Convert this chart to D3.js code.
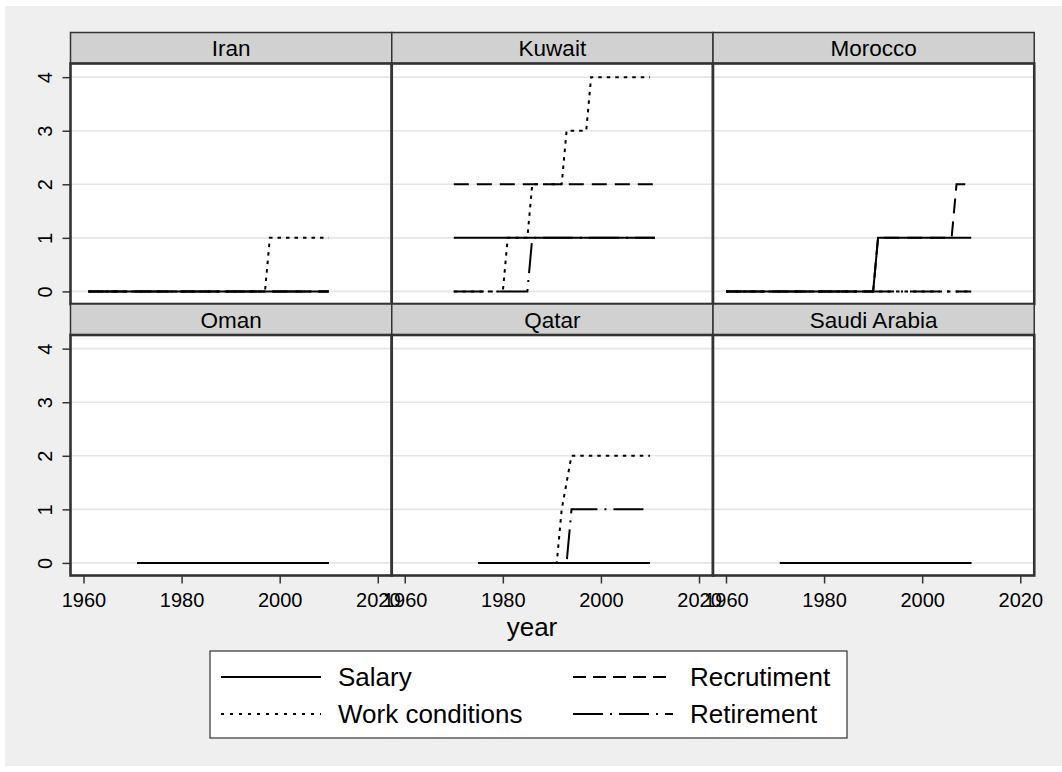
<!DOCTYPE html>
<html><head><meta charset="utf-8">
<script src="https://cdn.jsdelivr.net/npm/d3@7"></script>
<style>body{margin:0;background:#fff}svg{display:block}text{font-family:"Liberation Sans",Arial,Helvetica,sans-serif;fill:#000}</style>
</head><body><svg id="c" width="1062" height="772"></svg>
<script>
// ---- data (breakpoints of each step series, [year, value]) ----
const countries = ["Iran","Kuwait","Morocco","Oman","Qatar","Saudi Arabia"];
const seriesNames = ["Salary","Work conditions","Recrutiment","Retirement"];
const salary = [
  [[1961,0],[2010,0]],
  [[1970,1],[2011,1]],
  [[1960,0],[1990,0],[1991,1],[2010,1]],
  [[1971,0],[2010,0]],
  [[1975,0],[2010,0]],
  [[1971,0],[2010,0]]
];
const workConditions = [
  [[1961,0],[1997,0],[1998,1],[2010,1]],
  [[1970,0],[1980,0],[1981,1],[1985,1],[1986,2],[1992,2],[1993,3],[1997,3],[1998,4],[2010,4]],
  [[1960,0],[2010,0]],
  [[1971,0],[2010,0]],
  [[1975,0],[1991,0],[1992,1],[1994,2],[2010,2]],
  [[1971,0],[2010,0]]
];
const recruitment = [
  [[1961,0],[2010,0]],
  [[1970,2],[2011,2]],
  [[1960,0],[1990,0],[1991,1],[2006,1],[2007,2],[2010,2]],
  [[1971,0],[2010,0]],
  [[1975,0],[2010,0]],
  [[1971,0],[2010,0]]
];
const retirement = [
  [[1961,0],[2010,0]],
  [[1970,0],[1985,0],[1986,1],[2011,1]],
  [[1960,0],[2010,0]],
  [[1971,0],[2010,0]],
  [[1975,0],[1993,0],[1994,1],[2010,1]],
  [[1971,0],[2010,0]]
];
const xTicks = [1960,1980,2000,2020];
const yTicks = [0,1,2,3,4];

// ---- styles / layout ----
const dashes = ["none","3.5,5","15,8","30,7,2,7"];
const legendDashes = ["none","3,6","13,7","30,7,2,7"];
const allSeries = [salary, workConditions, recruitment, retirement];
const svg = d3.select("#c");
const FONT = '"Liberation Sans",Arial,Helvetica,sans-serif';

svg.append("rect").attr("x",5).attr("y",6).attr("width",1057).attr("height",760).attr("fill","#efefef");

const panelW = 321.25, stripH = 31, plotH = 240.5;
const lefts = [70.5, 70.5+panelW, 70.5+2*panelW];
const rowTops = [32.5, 304];
const x = d3.scaleLinear().domain([1957.35, 2022.85]).range([0, panelW]);
const y = d3.scaleLinear().domain([-0.235, 4.255]).range([plotH, 0]);

countries.forEach((name, i) => {
  const col = i % 3, row = Math.floor(i / 3);
  const g = svg.append("g").attr("transform", `translate(${lefts[col]},${rowTops[row]})`);
  g.append("rect").attr("width", panelW).attr("height", stripH).attr("fill", "#d1d1d1").attr("stroke", "#333").attr("stroke-width", 1.5);
  g.append("text").attr("x", panelW/2).attr("y", 23.5).attr("text-anchor","middle").attr("font-size",22.5).text(name);
  const p = g.append("g").attr("transform", `translate(0,${stripH})`);
  p.append("rect").attr("width", panelW).attr("height", plotH).attr("fill", "#fff");
  p.selectAll("line.grid").data(yTicks).join("line").attr("class","grid")
    .attr("x1",0).attr("x2",panelW).attr("y1",d=>y(d)).attr("y2",d=>y(d))
    .attr("stroke","#e6e6e6").attr("stroke-width",1.6);
  const line = d3.line().x(d=>x(d[0])).y(d=>y(d[1]));
  allSeries.forEach((s, k) => {
    p.append("path").attr("d", line(s[i])).attr("fill","none").attr("stroke","#000")
      .attr("stroke-width",2).attr("stroke-dasharray",dashes[k]);
  });
  p.append("rect").attr("width", panelW).attr("height", plotH).attr("fill","none").attr("stroke","#333").attr("stroke-width",2.6);
  if (col === 0) {
    const ya = p.append("g").call(d3.axisLeft(y).tickValues(yTicks).tickSize(8).tickFormat(d3.format("d")));
    ya.select(".domain").remove();
    ya.selectAll(".tick line").attr("stroke","#333").attr("stroke-width",1.5);
    ya.selectAll(".tick text").attr("font-family",FONT).attr("font-size",20).attr("fill","#000")
      .attr("x",0).attr("dy",0).attr("text-anchor","middle")
      .attr("transform","translate(-18.5,0) rotate(-90)");
  }
  if (row === 1) {
    const xa = p.append("g").attr("transform",`translate(0,${plotH})`)
      .call(d3.axisBottom(x).tickValues(xTicks).tickSize(8).tickFormat(d3.format("d")));
    xa.select(".domain").remove();
    xa.selectAll(".tick line").attr("stroke","#333").attr("stroke-width",1.5);
    xa.selectAll(".tick text").attr("font-family",FONT).attr("font-size",20).attr("fill","#000").attr("dy",0).attr("y",31);
  }
});

// axis title
svg.append("text").attr("x",532).attr("y",636).attr("text-anchor","middle").attr("font-size",26).text("year");

// legend
const lg = svg.append("g");
lg.append("rect").attr("x",210).attr("y",651).attr("width",637).attr("height",87).attr("fill","#fff").attr("stroke","#333").attr("stroke-width",1.2);
const legPos = [[221,677],[221,714],[573,677],[573,714]];
seriesNames.forEach((n,k) => {
  const [lx, ly] = legPos[k];
  lg.append("line").attr("x1",lx).attr("x2",lx+100).attr("y1",ly).attr("y2",ly).attr("stroke","#000").attr("stroke-width",2).attr("stroke-dasharray",legendDashes[k]);
  lg.append("text").attr("x",lx+117).attr("y",ly+9).attr("font-size",26).text(n);
});
</script></body></html>
